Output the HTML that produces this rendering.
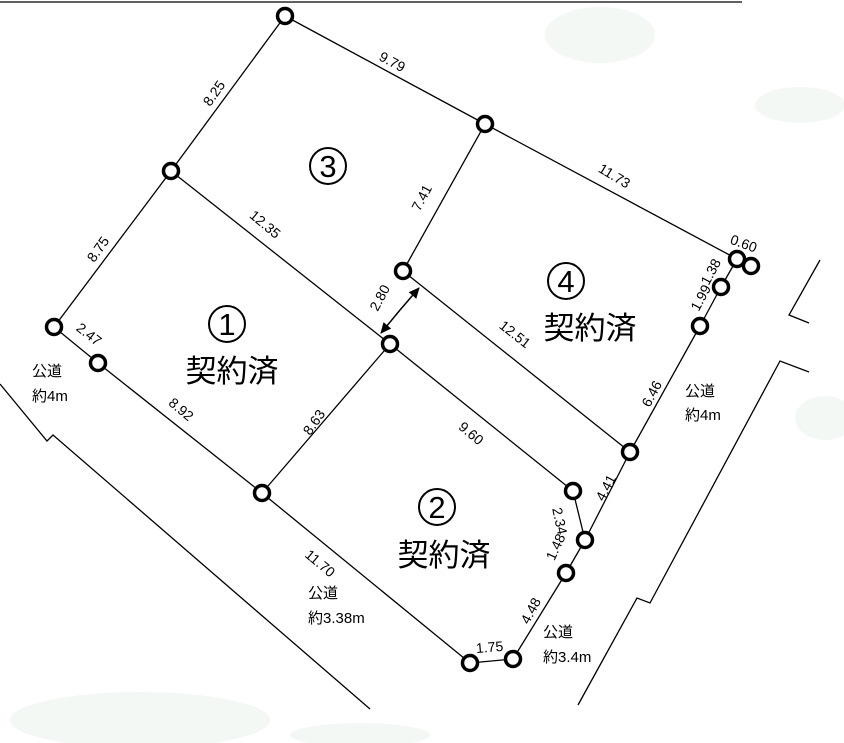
<!DOCTYPE html>
<html><head><meta charset="utf-8"><style>
html,body{margin:0;padding:0;background:#fff;}
svg{display:block;}
text{font-family:"Liberation Sans","Noto Sans CJK JP",sans-serif;fill:#000;}
</style></head><body>
<svg width="844" height="743" viewBox="0 0 844 743" xmlns="http://www.w3.org/2000/svg">
<defs>
<marker id="ah" markerWidth="12" markerHeight="12" refX="10" refY="6" orient="auto" markerUnits="userSpaceOnUse">
<path d="M0,1 L11,6 L0,11 z" fill="#000"/></marker>
</defs>
<g fill="#f4f8f5">
<ellipse cx="600" cy="35" rx="55" ry="28"/>
<ellipse cx="800" cy="105" rx="45" ry="18"/>
<ellipse cx="825" cy="418" rx="30" ry="22"/>
<ellipse cx="140" cy="720" rx="130" ry="28"/>
<ellipse cx="360" cy="735" rx="70" ry="12"/>
</g>
<line x1="0" y1="2" x2="742" y2="2" stroke="#000" stroke-width="1.2"/>
<g stroke="#000" stroke-width="1.3" fill="none">
<polyline points="0,384 47,441 53,435 370,709"/>
<polyline points="820,260 789,315 809,323"/>
<polyline points="809,372 780,361 650,603 637,598 578,705"/>
<line x1="285" y1="16" x2="485" y2="124"/>
<line x1="485" y1="124" x2="737" y2="259"/>
<line x1="285" y1="16" x2="171" y2="171"/>
<line x1="171" y1="171" x2="54" y2="327"/>
<line x1="171" y1="171" x2="390" y2="344"/>
<line x1="390" y1="344" x2="573" y2="491"/>
<line x1="485" y1="124" x2="403" y2="271"/>
<line x1="403" y1="271" x2="630" y2="452"/>
<line x1="390" y1="344" x2="262" y2="493"/>
<line x1="54" y1="327" x2="98" y2="363"/>
<line x1="98" y1="363" x2="262" y2="493"/>
<line x1="262" y1="493" x2="470" y2="663"/>
<line x1="470" y1="663" x2="513" y2="659"/>
<line x1="513" y1="659" x2="566" y2="573"/>
<line x1="566" y1="573" x2="585" y2="540"/>
<line x1="585" y1="540" x2="573" y2="491"/>
<line x1="585" y1="540" x2="630" y2="452"/>
<line x1="630" y1="452" x2="700" y2="326"/>
<line x1="700" y1="326" x2="721" y2="287"/>
<line x1="721" y1="287" x2="737" y2="259"/>
<line x1="737" y1="259" x2="751" y2="266"/>
</g>
<line x1="400" y1="310" x2="419" y2="288" stroke="#000" stroke-width="1.5" marker-end="url(#ah)"/>
<line x1="400" y1="310" x2="381" y2="333" stroke="#000" stroke-width="1.5" marker-end="url(#ah)"/>
<g stroke="#000" stroke-width="3.5" fill="#fff">
<circle cx="285" cy="16" r="7.5"/><circle cx="485" cy="124" r="7.5"/>
<circle cx="171" cy="171" r="7.5"/><circle cx="403" cy="271" r="7.5"/>
<circle cx="737" cy="259" r="7.5"/><circle cx="751" cy="266" r="7.5"/>
<circle cx="721" cy="287" r="7.5"/><circle cx="700" cy="326" r="7.5"/>
<circle cx="54" cy="327" r="7.5"/><circle cx="98" cy="363" r="7.5"/>
<circle cx="390" cy="344" r="7.5"/><circle cx="630" cy="452" r="7.5"/>
<circle cx="573" cy="491" r="7.5"/><circle cx="585" cy="540" r="7.5"/>
<circle cx="566" cy="573" r="7.5"/><circle cx="262" cy="493" r="7.5"/>
<circle cx="470" cy="663" r="7.5"/><circle cx="513" cy="659" r="7.5"/>
</g>
<g font-size="14" text-anchor="middle">
<text transform="translate(390,66) rotate(28)">9.79</text>
<text transform="translate(612,180) rotate(31)">11.73</text>
<text transform="translate(218,96) rotate(-55)">8.25</text>
<text transform="translate(102,252) rotate(-55)">8.75</text>
<text transform="translate(262,228) rotate(40)">12.35</text>
<text transform="translate(426,200) rotate(-62)">7.41</text>
<text transform="translate(384,300) rotate(-62)">2.80</text>
<text transform="translate(512,338) rotate(38)">12.51</text>
<text transform="translate(86,338) rotate(38)">2.47</text>
<text transform="translate(178,413) rotate(40)">8.92</text>
<text transform="translate(318,425) rotate(-55)">8.63</text>
<text transform="translate(468,437) rotate(40)">9.60</text>
<text transform="translate(317,567) rotate(40)">11.70</text>
<text transform="translate(490,652) rotate(-5)">1.75</text>
<text transform="translate(535,613) rotate(-62)">4.48</text>
<text transform="translate(560,549) rotate(-65)">1.48</text>
<text transform="translate(555,522) rotate(78)">2.34</text>
<text transform="translate(610,490) rotate(-62)">4.41</text>
<text transform="translate(656,396) rotate(-62)">6.46</text>
<text transform="translate(705,300) rotate(-62)">1.99</text>
<text transform="translate(715,274) rotate(-62)">1.38</text>
<text transform="translate(742,248) rotate(20)">0.60</text>
</g>
<g font-size="15">
<text x="32" y="376">公道</text><text x="32" y="401">約4m</text>
<text x="685" y="396">公道</text><text x="685" y="420">約4m</text>
<text x="308" y="598">公道</text><text x="308" y="623">約3.38m</text>
<text x="543" y="637">公道</text><text x="543" y="662">約3.4m</text>
</g>
<g fill="none" stroke="#000" stroke-width="2">
<circle cx="328" cy="166" r="18"/>
<circle cx="227" cy="324" r="18"/>
<circle cx="566" cy="281" r="18"/>
<circle cx="437" cy="507" r="18"/>
</g>
<g font-size="31" text-anchor="middle">
<text x="328" y="177">3</text>
<text x="227" y="335">1</text>
<text x="566" y="292">4</text>
<text x="437" y="518">2</text>
</g>
<g font-size="31" text-anchor="middle">
<text x="232" y="382">契約済</text>
<text x="590" y="339">契約済</text>
<text x="444" y="566">契約済</text>
</g>
</svg>
</body></html>
